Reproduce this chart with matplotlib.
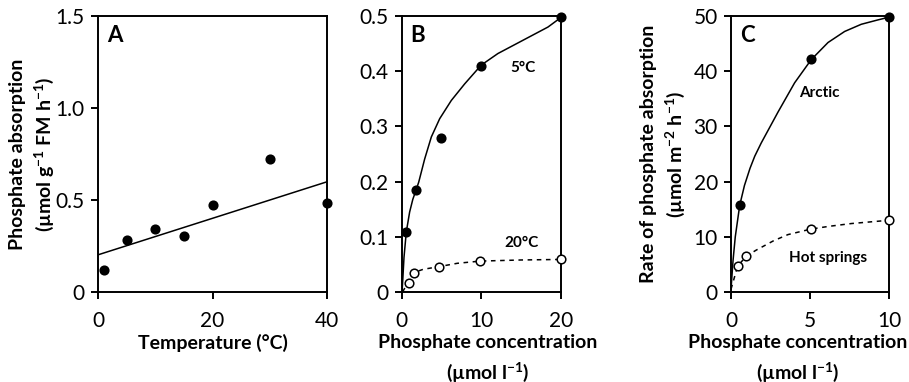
import numpy as np
import matplotlib
matplotlib.use('Agg')
import matplotlib.pyplot as plt

plt.rcParams['font.family'] = ['Lato', 'DejaVu Sans']
plt.rcParams['mathtext.fontset'] = 'custom'
plt.rcParams['mathtext.rm'] = 'Lato'
plt.rcParams['mathtext.bf'] = 'Lato:bold'
plt.rcParams['mathtext.default'] = 'bf'

# A: absorption vs temperature
temp = [1, 5, 10, 15, 20, 30, 40]
absorb = [0.12, 0.285, 0.343, 0.303, 0.475, 0.725, 0.483]
line_t = [0, 40]
line_a = [0.202, 0.599]

# B: concentration curves at 5 and 20 degrees
conc_b5 = [0.55, 1.8, 4.9, 10.0, 20.0]
abs_b5 = [0.108, 0.185, 0.279, 0.41, 0.498]
curve_b5_x = [0.04, 0.13, 0.29, 0.58, 1.0, 1.4, 1.84, 2.14, 2.89, 3.73, 4.78,
              6.24, 7.92, 10.0, 12.1, 14.2, 16.3, 18.4, 20.0]
curve_b5_y = [0.0, 0.021, 0.063, 0.109, 0.145, 0.168, 0.186, 0.199, 0.241, 0.281, 0.314,
              0.347, 0.377, 0.411, 0.432, 0.448, 0.464, 0.48, 0.497]

conc_b20 = [0.92, 1.5, 4.7, 9.9, 20.0]
abs_b20 = [0.016, 0.035, 0.046, 0.056, 0.059]
curve_b20_x = [0.1, 0.92, 1.5, 2.68, 4.7, 7.0, 9.9, 15.0, 20.0]
curve_b20_y = [0.0, 0.02, 0.035, 0.041, 0.046, 0.052, 0.056, 0.058, 0.059]

# C: arctic vs hot springs
conc_c = [0.55, 5.07, 10.0]
abs_arctic = [15.7, 42.2, 49.8]
curve_arc_x = [0.0, 0.13, 0.27, 0.55, 0.85, 1.2, 1.5, 1.91, 2.97, 4.02, 5.07,
               6.13, 7.18, 8.23, 9.29, 10.0]
curve_arc_y = [0.5, 5.75, 10.0, 15.7, 19.3, 22.4, 24.6, 27.0, 32.6, 37.9, 42.1,
               45.2, 47.2, 48.5, 49.3, 49.8]

conc_hs = [0.42, 0.97, 5.05, 10.0]
abs_hs = [4.7, 6.5, 11.4, 13.0]
curve_hs_x = [0.0, 0.42, 0.97, 1.6, 2.7, 3.6, 5.05, 6.2, 7.6, 8.8, 10.0]
curve_hs_y = [0.5, 4.7, 6.5, 7.6, 9.3, 10.4, 11.4, 11.9, 12.4, 12.7, 13.0]

fig = plt.figure(figsize=(9.09, 3.82), dpi=100)
H = 382.0
W = 909.0
def add_axes(left, right):
    return fig.add_axes([left / W, (H - 292) / H, (right - left) / W, 276 / H])

axA = add_axes(98, 327)
axB = add_axes(401.7, 560.7)
axC = add_axes(731, 889.3)

for ax in (axA, axB, axC):
    for s in ax.spines.values():
        s.set_linewidth(1.4)
    ax.tick_params(direction='out', length=5, width=1.4, labelsize=15)
    ax.tick_params(axis='x', pad=9)
    ax.tick_params(axis='y', pad=4.5)

fs_lab = 14
mk = dict(marker='o', ms=6.2, mec='black', mew=1.1, ls='none', clip_on=False, zorder=5)

# panel A
axA.plot(line_t, line_a, color='black', lw=1.1)
axA.plot(temp, absorb, mfc='black', **mk)
axA.set_xlim(0, 40)
axA.set_ylim(0, 1.5)
axA.set_xticks([0, 20, 40])
axA.set_yticks([0, 0.5, 1.0, 1.5])
axA.set_yticklabels(['0', '0.5', '1.0', '1.5'])
axA.set_xlabel('Temperature (°C)', fontsize=fs_lab, fontweight='bold', labelpad=2)
axA.set_ylabel('Phosphate absorption\n(µmol g$^{-1}$ FM h$^{-1}$)', fontsize=fs_lab,
               fontweight='bold', labelpad=0, linespacing=1.35)

# panel B
axB.plot(curve_b5_x, curve_b5_y, color='black', lw=1.1)
axB.plot(curve_b20_x, curve_b20_y, color='black', lw=1.1, dashes=(3, 3))
axB.plot(conc_b5, abs_b5, mfc='black', **mk)
axB.plot(conc_b20, abs_b20, mfc='white', **mk)
axB.set_xlim(0, 20)
axB.set_ylim(0, 0.5)
axB.set_xticks([0, 10, 20])
axB.set_yticks([0, 0.1, 0.2, 0.3, 0.4, 0.5])
axB.set_yticklabels(['0', '0.1', '0.2', '0.3', '0.4', '0.5'])
axB.set_xlabel('Phosphate concentration\n(µmol l$^{-1}$)', fontsize=fs_lab,
               fontweight='bold', labelpad=2, linespacing=1.5)
axB.xaxis.label.set_x(0.54)
axB.text(15.3, 0.406, '5°C', fontsize=11, fontweight='bold', ha='center', va='center')
axB.text(15.1, 0.088, '20°C', fontsize=11, fontweight='bold', ha='center', va='center')

# panel C
axC.plot(curve_arc_x, curve_arc_y, color='black', lw=1.1)
axC.plot(curve_hs_x, curve_hs_y, color='black', lw=1.1, dashes=(3, 3))
axC.plot(conc_c, abs_arctic, mfc='black', **mk)
axC.plot(conc_hs, abs_hs, mfc='white', **mk)
axC.set_xlim(0, 10)
axC.set_ylim(0, 50)
axC.set_xticks([0, 5, 10])
axC.set_yticks([0, 10, 20, 30, 40, 50])
axC.set_xlabel('Phosphate concentration\n(µmol l$^{-1}$)', fontsize=fs_lab,
               fontweight='bold', labelpad=2, linespacing=1.5)
axC.xaxis.label.set_x(0.42)
axC.set_ylabel('Rate of phosphate absorption\n(µmol m$^{-2}$ h$^{-1}$)', fontsize=fs_lab,
               fontweight='bold', labelpad=5, linespacing=1.35)
axC.text(5.56, 36.0, 'Arctic', fontsize=11, fontweight='bold', ha='center', va='center')
axC.text(6.15, 6.1, 'Hot springs', fontsize=11, fontweight='bold', ha='center', va='center')

for ax, letter in ((axA, 'A'), (axB, 'B'), (axC, 'C')):
    ax.annotate(letter, xy=(0, 1), xycoords='axes fraction', xytext=(9, -19),
                textcoords='offset pixels', ha='left', va='center',
                fontsize=16, fontweight='bold')

fig.savefig('out.png', dpi=100)
